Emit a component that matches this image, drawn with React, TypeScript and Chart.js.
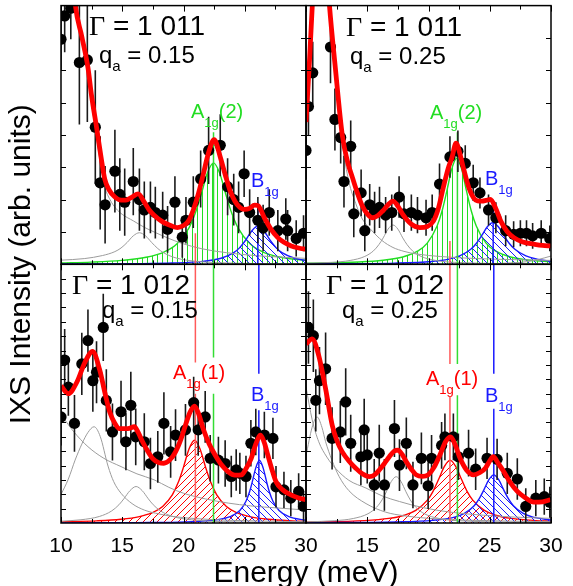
import React, { useEffect, useRef } from 'react';
import { Chart, registerables } from 'chart.js';

Chart.register(...registerables);

type Panel = 'TL' | 'TR' | 'BL' | 'BR';

// ---------- axis ticks ----------
const MAJOR_TICKS = [10, 15, 20, 25, 30];
const MINOR_TICKS = [12.5, 17.5, 22.5, 27.5];
const LEFT_TICK_LABELS = [10, 15, 20, 25, 30];
const RIGHT_TICK_LABELS = [15, 20, 25, 30];
const Y_DIV_TOP = 8;
const Y_DIV_BOTTOM = 18;

// ---------- panel texts ----------
const PANEL_GAMMA: Record<Panel, string> = { TL: '1 011', TR: '1 011', BL: '1 012', BR: '1 012' };
const PANEL_Q: Record<Panel, string> = { TL: '0.15', TR: '0.25', BL: '0.15', BR: '0.25' };

// ---------- measured points [energy meV, intensity, error] ----------
const TL_POINTS = [
  [10.0, 87, 12], [10.3, 96, 14], [10.8, 99, 12], [11.5, 78, 24], [12.15, 79, 24], [12.8, 53, 22],
  [13.2, 31.5, 18], [13.6, 23, 15], [14.4, 36, 16], [14.8, 27, 14], [15.2, 24, 13], [15.9, 32, 13],
  [16.4, 25, 12], [16.8, 21, 11], [17.3, 22, 10], [17.7, 20, 10], [18.3, 19, 9], [18.7, 13.5, 9],
  [19.3, 24, 10], [19.9, 10.5, 8], [20.2, 17, 9], [20.8, 24, 10], [21.4, 33, 11], [22.05, 44, 13],
  [23.0, 46, 12], [23.6, 30, 11], [24.1, 25, 10], [24.5, 22, 10], [24.95, 35, 9], [25.4, 20, 9],
  [26.07, 17, 9], [26.5, 14, 9], [27.0, 20, 9], [27.7, 13, 8], [28.35, 17.5, 8], [28.5, 13, 8],
  [29.2, 10, 7], [29.8, 12, 7],
];
const TR_POINTS = [
  [10.0, 44, 11], [10.2, 61, 11], [10.55, 74, 12], [12.0, 84, 14], [12.36, 56, 12], [12.83, 49, 10],
  [13.1, 32, 10], [13.65, 45.6, 10], [13.9, 19.5, 9], [14.5, 27.6, 9], [14.8, 13, 8], [15.2, 23, 8],
  [15.6, 20, 8], [16.0, 22, 8], [16.5, 19, 7], [17.0, 20, 7], [17.6, 26, 8], [18.0, 19.5, 7],
  [18.6, 20, 7], [19.1, 19, 7], [19.8, 18, 7], [20.3, 20, 7], [20.9, 31, 8], [21.75, 41.5, 8],
  [22.4, 43.7, 8], [23.0, 39, 7], [23.65, 31.5, 7], [24.2, 27.6, 6], [24.9, 21, 6], [25.5, 18, 6],
  [26.3, 13, 6], [26.95, 11.6, 5], [27.5, 12, 5], [28.0, 12, 5], [28.5, 11, 5], [29.2, 12, 5],
  [29.9, 10, 5],
];
const BL_POINTS = [
  [10.0, 41, 11], [10.3, 63, 12], [10.6, 52.5, 11], [11.1, 38.5, 11], [11.7, 61.5, 12], [12.2, 70.5, 12],
  [12.6, 55, 12], [12.9, 58.3, 12], [13.45, 75.6, 13], [13.7, 47.4, 12], [14.2, 35.2, 11], [14.9, 43, 12],
  [15.3, 31.4, 11], [15.7, 45.5, 13], [16.1, 33.3, 11], [16.8, 31.4, 11], [17.3, 23, 10], [17.9, 25.6, 10],
  [18.4, 38.5, 12], [18.95, 27.5, 10], [19.35, 34, 10], [20.16, 36, 10], [20.83, 46.5, 10], [21.2, 36, 10],
  [21.77, 41, 10], [22.18, 25, 9], [22.85, 24.3, 9], [23.4, 23, 9], [23.9, 18, 8], [24.3, 20.5, 8],
  [24.6, 19.2, 8], [25.1, 18, 8], [25.5, 30.8, 9], [25.9, 35.2, 9], [26.6, 34, 9], [27.3, 32.7, 8],
  [27.55, 14, 8], [28.2, 12.8, 7], [28.76, 9.6, 7], [29.4, 12.2, 7], [29.8, 6.5, 6],
];
const BR_POINTS = [
  [10.2, 75.6, 14], [10.6, 72.4, 14], [10.8, 47.4, 12], [11.1, 55, 13], [11.6, 59.6, 14], [12.13, 32.7, 12],
  [12.8, 35.2, 12], [13.24, 46.8, 13], [13.65, 30.8, 11], [14.48, 25.6, 11], [14.75, 36, 12], [15.0, 26.3, 11],
  [15.57, 14.7, 10], [15.98, 27, 11], [16.4, 14.7, 10], [17.22, 36.5, 11], [17.63, 22.4, 10], [18.19, 30.8, 10],
  [18.73, 14.7, 9], [19.42, 25, 10], [19.97, 14.4, 9], [20.25, 25, 9], [21.07, 30, 9], [21.34, 33.3, 9],
  [22.03, 33.3, 9], [22.44, 25.6, 9], [23.27, 27, 9], [23.85, 20.8, 8], [24.78, 25, 8], [25.6, 24.6, 8],
  [26.43, 19.2, 8], [27.25, 17, 8], [27.94, 6.4, 7], [28.76, 9.6, 7], [29.45, 10.2, 7], [29.9, 8, 6],
];

// ---------- fitted total (red) [energy, intensity] ----------
const TL_FIT = [
  [10, 185], [10.6, 135], [11.15, 101], [11.7, 88], [12.2, 76], [12.5, 65], [12.9, 53], [13.25, 42],
  [13.57, 33], [13.9, 29], [14.4, 26], [14.9, 24.8], [15.3, 24.8], [15.8, 26], [16.3, 27.2], [16.8, 24],
  [17.2, 21], [17.6, 19], [18.27, 16.5], [18.95, 15], [19.5, 14.2], [20.0, 15], [20.4, 16.7], [20.8, 21],
  [21.2, 27], [21.6, 34.5], [22.0, 42.4], [22.5, 48.2], [23.0, 41.5], [23.4, 34.7], [23.8, 28.5], [24.2, 24.4],
  [24.6, 22], [25.0, 21.2], [25.4, 21.6], [25.8, 22.9], [26.1, 22.6], [26.6, 18], [27.15, 13.5], [27.7, 10.3],
  [28.2, 8.5], [28.8, 7.1], [29.4, 6.3], [30, 5.8],
];
const TR_FIT = [
  [10.0, 55], [10.3, 80], [10.6, 108], [11.2, 150], [11.9, 101], [12.4, 75.7], [12.96, 50], [13.4, 39.5],
  [13.8, 33.4], [14.2, 27.5], [14.6, 22.5], [15.0, 19.5], [15.43, 18], [15.85, 18.8], [16.26, 20.6], [16.7, 23],
  [17.1, 24.4], [17.5, 22.5], [17.9, 19.3], [18.6, 15.5], [19.28, 14.2], [19.9, 14.6], [20.4, 16.7], [20.8, 21.5],
  [21.2, 29.5], [21.6, 37], [21.9, 41], [22.25, 46.8], [22.55, 43], [22.85, 37.2], [23.3, 29.5], [23.68, 25.7],
  [24.0, 24.5], [24.37, 24.4], [24.7, 24.7], [25.05, 25.1], [25.5, 21.5], [25.9, 16.7], [26.4, 12.8], [26.97, 10.3],
  [27.7, 8.6], [28.6, 7.8], [29.3, 7.3], [30, 7.1],
];
const BL_FIT = [
  [10.0, 53], [10.6, 50], [11.3, 54.5], [11.96, 62.2], [12.58, 66.3], [13.17, 59], [13.6, 50], [13.98, 42.9],
  [14.4, 38.5], [14.78, 36.5], [15.45, 36.5], [15.99, 37.2], [16.3, 35], [16.66, 31.4], [17.05, 28], [17.47, 25],
  [18.0, 23.3], [18.4, 23.1], [18.9, 24.5], [19.35, 27.5], [19.8, 32.5], [20.16, 37.8], [20.55, 43], [20.9, 45.2],
  [21.25, 42], [21.6, 36.5], [22.1, 30.5], [22.58, 26.3], [23.1, 22.5], [23.65, 19.8], [24.2, 18.5], [24.73, 18.6],
  [25.1, 21], [25.53, 25], [25.9, 30.5], [26.29, 34], [26.6, 31], [26.88, 26.3], [27.2, 21], [27.55, 16],
  [28.1, 12.8], [28.76, 10.9], [29.4, 9.7], [29.97, 9],
];
const BR_FIT = [
  [10.0, 69.2], [10.5, 71.2], [11.04, 64.7], [11.6, 51.9], [12.14, 37.8], [12.55, 31.5], [12.96, 27.5], [13.5, 24],
  [14.06, 21.2], [14.6, 19], [15.16, 17.9], [15.6, 18.6], [15.98, 20.5], [16.4, 23], [16.8, 25.6], [17.2, 27.8],
  [17.5, 28.2], [17.85, 26.5], [18.19, 23.7], [18.6, 20.8], [19.0, 18.6], [19.5, 18], [19.97, 18.6], [20.45, 21.5],
  [20.93, 26.3], [21.4, 31.5], [21.81, 33.3], [22.2, 30], [22.58, 25], [23.1, 20.5], [23.68, 18.6], [24.2, 19.5],
  [24.64, 21.2], [25.0, 24], [25.28, 25.6], [25.7, 23], [26.15, 19.8], [26.7, 15.5], [27.25, 12.2], [27.9, 9.8],
  [28.6, 8.1], [29.3, 8.2], [29.95, 9],
];

// ---------- gray components ----------
const TL_GRAY_TAIL = [
  [10, 185], [10.6, 135], [11.15, 100], [11.7, 86], [12.2, 73], [12.5, 62], [12.9, 49], [13.25, 38], [13.57, 30],
  [14.0, 25], [14.5, 21.5], [15.0, 19.3], [15.9, 16.8], [16.8, 14.3], [17.6, 12.5], [18.8, 10], [19.8, 8.2],
  [21.5, 6], [23.5, 4.5], [26, 3.3], [30, 2.3],
];
const TL_GRAY_MODE = [
  [10, 1.6], [11.9, 2.2], [13.4, 3.4], [14.4, 4.9], [14.9, 6.3], [15.4, 8.45], [15.9, 11.0], [16.4, 12.2],
  [16.9, 11.0], [17.4, 8.45], [17.9, 6.1], [18.4, 4.39], [19.4, 2.44], [20.9, 1.22], [24.4, 0.41], [30, 0.15],
];
const TR_GRAY_TAIL = [
  [10.0, 52], [10.3, 77], [10.6, 105], [11.2, 148], [11.9, 99], [12.4, 73], [12.96, 47], [13.5, 32], [14.06, 23.5],
  [14.6, 17.5], [15.4, 12.9], [16.2, 9.2], [17.1, 6.5], [18, 5], [19.0, 4], [21, 3], [24, 2.2], [27, 1.8], [30, 1.5],
];
const TR_GRAY_MODE = [
  [10, 0.39], [12.1, 0.76], [13.6, 1.48], [14.8, 3.04], [15.5, 5.17], [15.95, 7.6], [16.3, 10.2], [16.7, 13.6],
  [17.1, 15.2], [17.5, 13.6], [17.9, 10.2], [18.25, 7.6], [18.7, 5.17], [19.4, 3.04], [20.6, 1.48], [22.1, 0.76],
  [30, 0.12],
];
const TR_GRAY_HIGH = [[25.5, 0.3], [27, 0.6], [28, 1.0], [29, 1.9], [30, 3.2]];
const BL_GRAY_TAIL = [
  [10, 42], [11, 35.5], [12.2, 29.5], [13.5, 25], [14.9, 21.8], [16.2, 19], [17.6, 16.7], [18.8, 13.8],
  [20.0, 11.5], [21.8, 9.3], [23.65, 7.7], [25.5, 6.6], [27.7, 5.8], [30, 5],
];
const BL_GRAY_MODE1 = [
  [10, 11], [10.6, 17], [11.15, 24.3], [11.7, 30.5], [12.2, 35], [12.7, 37.2], [13.2, 33.5], [13.84, 22],
  [14.3, 16], [14.9, 11.5], [15.8, 7.5], [16.8, 5], [18, 3.5], [19, 2.6], [21, 1.7], [24, 1.0], [30, 0.5],
];
const BL_GRAY_MODE2 = [
  [10, 0.7], [11.63, 1.25], [13.13, 2.52], [14.13, 4.64], [14.73, 7.05], [15.13, 9.34], [15.63, 12.5], [16.13, 14.1],
  [16.63, 12.5], [17.13, 9.34], [17.53, 7.05], [18.13, 4.64], [19.13, 2.52], [20.63, 1.25], [24.13, 0.42], [30, 0.14],
];
const BR_GRAY_TAIL = [
  [10, 52.5], [10.5, 40], [11.04, 31.4], [11.7, 25.5], [12.4, 21.2], [13.5, 16.5], [14.9, 13.5], [16.2, 10.5],
  [17.63, 8.3], [19.5, 6], [21.75, 4.2], [24.5, 3], [27, 2.3], [30, 1.8],
];
const BR_GRAY_MODE1 = [
  [10, 26], [10.5, 37], [10.9, 41], [11.3, 37], [11.6, 31.4], [12.1, 24.5], [12.7, 18], [13.5, 12.5],
  [14.9, 7.5], [16.5, 4.2], [18, 2.8], [20, 1.8], [23, 1.1], [30, 0.5],
];
const BR_GRAY_MODE2 = [
  [10, 0.43], [12.36, 0.9], [13.86, 1.74], [15.06, 3.58], [15.76, 6.09], [16.21, 8.95], [16.56, 12.06], [16.96, 16.0],
  [17.36, 17.9], [17.76, 16.0], [18.16, 12.06], [18.51, 8.95], [18.96, 6.09], [19.66, 3.58], [20.86, 1.74],
  [22.36, 0.9], [30, 0.15],
];

// ---------- phonon components (hatched) ----------
const TL_A1G2 = [
  [10, 0.56], [12.45, 0.86], [14.95, 1.51], [16.95, 2.71], [18.45, 4.83], [19.45, 7.84], [20.45, 14.1], [20.95, 19.6],
  [21.45, 27.1], [21.95, 35.3], [22.45, 39.2], [22.95, 35.3], [23.45, 27.1], [23.95, 19.6], [24.45, 14.1],
  [25.45, 7.84], [26.45, 4.83], [27.95, 2.71], [30, 1.49],
];
const TL_B1G = [
  [10, 0.1], [16.07, 0.25], [19.07, 0.49], [21.57, 1.14], [23.07, 2.34], [24.07, 4.39], [24.57, 6.35], [25.07, 9.3],
  [25.57, 12.9], [26.07, 14.8], [26.57, 12.9], [27.07, 9.3], [27.57, 6.35], [28.07, 4.39], [29.07, 2.34], [30, 1.46],
];
const TR_A1G2 = [
  [10, 0.39], [14.3, 0.9], [16.3, 1.58], [17.9, 2.84], [19.1, 5.06], [19.9, 8.2], [20.7, 14.8], [21.1, 20.5],
  [21.5, 28.4], [21.9, 36.9], [22.3, 41], [22.7, 36.9], [23.1, 28.4], [23.5, 20.5], [23.9, 14.8], [24.7, 8.2],
  [25.5, 5.06], [26.7, 2.84], [28.3, 1.58], [30, 0.97],
];
const TR_B1G = [
  [10, 0.13], [17.25, 0.45], [20.25, 1.1], [21.65, 1.99], [22.55, 3.22], [23.45, 5.8], [23.9, 8.05], [24.35, 11.15],
  [24.8, 14.5], [25.25, 16.1], [25.7, 14.5], [26.15, 11.15], [26.6, 8.05], [27.05, 5.8], [27.95, 3.22], [28.85, 1.99],
  [30, 1.2],
];
const BL_A1G1 = [
  [10, 0.45], [12.9, 0.82], [14.9, 1.43], [16.4, 2.47], [17.4, 3.88], [18.3, 6.4], [19.1, 11], [19.6, 16], [20.0, 21.6],
  [20.45, 28.6], [20.9, 32], [21.35, 28.6], [21.8, 21.6], [22.2, 16], [22.7, 11], [23.5, 6.4], [24.4, 3.88],
  [25.4, 2.47], [26.9, 1.43], [28.9, 0.82], [30, 0.64],
];
const BL_B1G = [
  [10, 0.06], [16.2, 0.15], [20.2, 0.42], [22.7, 1.21], [23.8, 2.43], [24.6, 4.86], [25.1, 8.4], [25.4, 12.15],
  [25.6, 15.6], [25.9, 21.3], [26.2, 24.3], [26.5, 21.3], [26.8, 15.6], [27.0, 12.15], [27.3, 8.4], [27.8, 4.86],
  [28.6, 2.43], [30, 1.03],
];
const BR_A1G1 = [
  [10, 0.34], [14.76, 0.93], [16.76, 1.77], [18.03, 3.0], [18.96, 4.86], [19.89, 8.74], [20.36, 12.15], [20.83, 16.9],
  [21.29, 21.8], [21.76, 24.3], [22.23, 21.8], [22.69, 16.9], [23.16, 12.15], [23.63, 8.74], [24.56, 4.86],
  [25.49, 3.0], [26.76, 1.77], [28.76, 0.93], [30, 0.68],
];
const BR_B1G = [
  [10, 0.11], [17.33, 0.41], [20.33, 1.01], [22.13, 2.29], [22.93, 3.72], [23.73, 6.7], [24.13, 9.3], [24.53, 12.9],
  [24.93, 16.74], [25.33, 18.6], [25.73, 16.74], [26.13, 12.9], [26.53, 9.3], [26.93, 6.7], [27.73, 3.72],
  [28.53, 2.29], [30, 1.15],
];

// ---------- mode position markers [panel, energy, from, to] ----------
const A1G1_MARKS: [Panel, number, number, number][] = [
  ['TL', 20.97, 0, 12], ['BL', 20.97, 62, 100], ['BL', 20.97, 0, 50],
  ['TR', 21.75, 0, 9], ['BR', 21.75, 61.5, 100], ['BR', 21.75, 0, 48.7],
];
const A1G2_MARKS: [Panel, number, number, number][] = [
  ['TL', 22.45, 0, 51], ['BL', 22.45, 64, 100], ['BL', 22.45, 0, 50],
  ['TR', 22.36, 0, 51], ['BR', 22.36, 61.5, 100], ['BR', 22.36, 0, 49.4],
];
const B1G_MARKS: [Panel, number, number, number][] = [
  ['TL', 26.07, 0, 24], ['BL', 26.15, 57.7, 100], ['BL', 26.15, 0, 43.6],
  ['TR', 25.28, 0, 25], ['BR', 25.33, 57.7, 100], ['BR', 25.33, 0, 44.2],
];

// ---------- styling / layout ----------
const SANS = "'Liberation Sans', Arial, Helvetica, sans-serif";
const SERIF = "'Liberation Serif', 'Times New Roman', serif";
const RED = '#ff0000';
const GREEN = '#22dd22';
const BLUE = '#1a1aff';
const GRAY = '#9c9c9c';
const PANELS: Panel[] = ['TL', 'TR', 'BL', 'BR'];

const GAMMA_POS: Record<Panel, [number, number]> = { TL: [89, 35], TR: [346, 36], BL: [72, 294], BR: [326, 294] };
const Q_POS: Record<Panel, [number, number]> = { TL: [99, 63], TR: [350, 64], BL: [102, 318], BR: [342, 318] };
const A_POS: Record<Panel, [number, number]> = { TL: [191, 118], TR: [430, 119], BL: [173, 379], BR: [426, 385] };
const B_POS: Record<Panel, [number, number]> = { TL: [251, 187], TR: [485, 185], BL: [251, 401], BR: [485, 402] };

const col = (p: Panel) => (p[1] === 'L' ? 0 : 1);
const isTop = (p: Panel) => p[0] === 'T';
const X = (p: Panel, e: number) => e - 10 + col(p) * 20;
const Y = (p: Panel, v: number) => v + (isTop(p) ? 100 : 0);
const curve = (p: Panel, arr: number[][]) => arr.map(([e, v]) => ({ x: X(p, e), y: Y(p, v) }));

function panelRect(chart: any, p: Panel) {
  const xs = chart.scales.x;
  const ys = chart.scales.y;
  const c = col(p) * 20;
  return {
    l: xs.getPixelForValue(c),
    r: xs.getPixelForValue(c + 20),
    t: ys.getPixelForValue(isTop(p) ? 200 : 100),
    b: ys.getPixelForValue(isTop(p) ? 100 : 0),
  };
}

function drawRuns(ctx: CanvasRenderingContext2D, x: number, y: number, runs: [string, string, number][], color: string) {
  ctx.fillStyle = color;
  let cx = x;
  for (const [t, f, dy] of runs) {
    ctx.font = f;
    ctx.fillText(t, cx, y + dy);
    cx += ctx.measureText(t).width;
  }
}

const panelClip = {
  id: 'panelClip',
  beforeDatasetDraw(chart: any, args: any) {
    const ds = chart.data.datasets[args.index];
    const r = panelRect(chart, ds.panel);
    const ctx = chart.ctx;
    ctx.save();
    ctx.beginPath();
    ctx.rect(r.l, r.t, r.r - r.l, r.b - r.t);
    ctx.clip();
  },
  afterDatasetDraw(chart: any) {
    chart.ctx.restore();
  },
};

const frame = {
  id: 'frame',
  afterDraw(chart: any) {
    const ctx: CanvasRenderingContext2D = chart.ctx;
    const xs = chart.scales.x;
    const ys = chart.scales.y;
    ctx.save();
    ctx.textAlign = 'left';
    ctx.textBaseline = 'alphabetic';
    for (const p of PANELS) {
      const r = panelRect(chart, p);
      ctx.strokeStyle = '#000';
      ctx.lineWidth = 1;
      ctx.beginPath();
      for (const e of [...MAJOR_TICKS, ...MINOR_TICKS]) {
        const xp = Math.round(xs.getPixelForValue(X(p, e))) + 0.5;
        const len = MAJOR_TICKS.includes(e) ? 6 : 4;
        ctx.moveTo(xp, r.b); ctx.lineTo(xp, r.b - len);
        ctx.moveTo(xp, r.t); ctx.lineTo(xp, r.t + len);
      }
      const n = isTop(p) ? Y_DIV_TOP : Y_DIV_BOTTOM;
      for (let k = 1; k < n; k++) {
        const yp = Math.round(ys.getPixelForValue(Y(p, (k * 100) / n))) + 0.5;
        ctx.moveTo(r.l, yp); ctx.lineTo(r.l + 5, yp);
        ctx.moveTo(r.r, yp); ctx.lineTo(r.r - 5, yp);
      }
      ctx.stroke();
      ctx.lineWidth = 1.5;
      ctx.strokeRect(r.l, r.t, r.r - r.l, r.b - r.t);

      const [gx, gy] = GAMMA_POS[p];
      drawRuns(ctx, gx, gy, [['\u0393', `28px ${SERIF}`, 0], [' = ' + PANEL_GAMMA[p], `28px ${SANS}`, 0]], '#000');
      const [qx, qy] = Q_POS[p];
      drawRuns(ctx, qx, qy, [['q', `24px ${SANS}`, 0], ['a', `15px ${SANS}`, 8], [' = ' + PANEL_Q[p], `24px ${SANS}`, 0]], '#000');
      const [ax, ay] = A_POS[p];
      const top = isTop(p);
      drawRuns(ctx, ax, ay, [['A', `20px ${SANS}`, 0], ['1g', `13px ${SANS}`, 9], [top ? '(2)' : '(1)', `20px ${SANS}`, 0]], top ? GREEN : RED);
      const [bx, by] = B_POS[p];
      drawRuns(ctx, bx, by, [['B', `20px ${SANS}`, 0], ['1g', `13px ${SANS}`, 9]], BLUE);
    }
    ctx.fillStyle = '#000';
    ctx.font = `21px ${SANS}`;
    ctx.textAlign = 'center';
    const yb = ys.getPixelForValue(0) + 29;
    for (const e of LEFT_TICK_LABELS) ctx.fillText(String(e), xs.getPixelForValue(X('BL', e)), yb);
    for (const e of RIGHT_TICK_LABELS) ctx.fillText(String(e), xs.getPixelForValue(X('BR', e)), yb);
    ctx.font = `30px ${SANS}`;
    ctx.fillText('Energy (meV)', (xs.left + xs.right) / 2, ys.getPixelForValue(0) + 59);
    ctx.translate(22, (ys.top + ys.bottom) / 2);
    ctx.rotate(-Math.PI / 2);
    ctx.textBaseline = 'middle';
    ctx.fillText('IXS Intensity (arb. units)', 0, 0);
    ctx.restore();
  },
};

function makeHatch(target: CanvasRenderingContext2D, color: string, kind: string, s: number) {
  const c = document.createElement('canvas');
  c.width = s;
  c.height = s;
  const g = c.getContext('2d')!;
  g.strokeStyle = color;
  g.lineWidth = 1;
  g.beginPath();
  if (kind === 'v') {
    g.moveTo(Math.floor(s / 2) + 0.5, 0);
    g.lineTo(Math.floor(s / 2) + 0.5, s);
  } else if (kind === 'back') {
    for (const k of [-s, 0, s]) { g.moveTo(0, k); g.lineTo(s, s + k); }
  } else {
    for (const k of [0, s, 2 * s]) { g.moveTo(0, k); g.lineTo(s, k - s); }
  }
  g.stroke();
  return target.createPattern(c, 'repeat');
}

export default function App() {
  const ref = useRef<HTMLCanvasElement | null>(null);
  useEffect(() => {
    const canvas = ref.current!;
    const ctx = canvas.getContext('2d')!;
    const greenHatch = makeHatch(ctx, GREEN, 'v', 5);
    const blueHatch = makeHatch(ctx, BLUE, 'back', 7);
    const redHatch = makeHatch(ctx, RED, 'fwd', 7);

    const POINTS: Record<Panel, number[][]> = { TL: TL_POINTS, TR: TR_POINTS, BL: BL_POINTS, BR: BR_POINTS };
    const FITS: Record<Panel, number[][]> = { TL: TL_FIT, TR: TR_FIT, BL: BL_FIT, BR: BR_FIT };
    const GRAYS: Record<Panel, number[][][]> = {
      TL: [TL_GRAY_TAIL, TL_GRAY_MODE],
      TR: [TR_GRAY_TAIL, TR_GRAY_MODE, TR_GRAY_HIGH],
      BL: [BL_GRAY_TAIL, BL_GRAY_MODE1, BL_GRAY_MODE2],
      BR: [BR_GRAY_TAIL, BR_GRAY_MODE1, BR_GRAY_MODE2],
    };
    const BLUES: Record<Panel, number[][]> = { TL: TL_B1G, TR: TR_B1G, BL: BL_B1G, BR: BR_B1G };
    const OTHER: Record<Panel, number[][]> = { TL: TL_A1G2, TR: TR_A1G2, BL: BL_A1G1, BR: BR_A1G1 };

    const datasets: any[] = [];
    const line = (p: Panel, data: any[], extra: any) => ({
      panel: p,
      data,
      pointRadius: 0,
      fill: false,
      cubicInterpolationMode: 'monotone',
      ...extra,
    });

    for (const p of PANELS) {
      datasets.push(line(p, curve(p, FITS[p]), { order: 0, borderColor: RED, borderWidth: 4.8 }));
      datasets.push({
        panel: p,
        order: 1,
        data: curve(p, POINTS[p]),
        showLine: false,
        pointRadius: 5.6,
        pointBackgroundColor: '#000',
        pointBorderColor: '#000',
        pointBorderWidth: 0,
      });
      const err: any[] = [];
      for (const [e, v, s] of POINTS[p]) {
        err.push({ x: X(p, e), y: Y(p, v - s) }, { x: X(p, e), y: Y(p, v + s) }, { x: X(p, e), y: null });
      }
      datasets.push(line(p, err, { order: 2, borderColor: '#1a1a1a', borderWidth: 1.6, spanGaps: false, cubicInterpolationMode: 'default', tension: 0 }));
      const marks: [[Panel, number, number, number][], string][] = [[A1G1_MARKS, '#ff5a5a'], [A1G2_MARKS, '#33dd33'], [B1G_MARKS, BLUE]];
      for (const [list, color] of marks) {
        const d: any[] = [];
        for (const [mp, e, a, b] of list) {
          if (mp !== p) continue;
          d.push({ x: X(p, e), y: Y(p, a) }, { x: X(p, e), y: Y(p, b) }, { x: X(p, e), y: null });
        }
        if (d.length) datasets.push(line(p, d, { order: 3, borderColor: color, borderWidth: 1.5, spanGaps: false, cubicInterpolationMode: 'default', tension: 0 }));
      }
      for (const g of GRAYS[p]) datasets.push(line(p, curve(p, g), { order: 4, borderColor: GRAY, borderWidth: 1 }));
      const base = isTop(p) ? 100 : 0;
      datasets.push(line(p, curve(p, BLUES[p]), { order: 5, borderColor: BLUE, borderWidth: 1.4, backgroundColor: blueHatch, fill: { value: base } }));
      datasets.push(line(p, curve(p, OTHER[p]), {
        order: 6,
        borderColor: isTop(p) ? GREEN : RED,
        borderWidth: 1.4,
        backgroundColor: isTop(p) ? greenHatch : redHatch,
        fill: { value: base },
      }));
    }

    const chart = new Chart(canvas, {
      type: 'line',
      data: { datasets },
      options: {
        animation: false,
        responsive: false,
        devicePixelRatio: 1,
        events: [],
        layout: { padding: { left: 61, right: 22, top: 3, bottom: 63 } },
        plugins: { legend: { display: false }, tooltip: { enabled: false }, title: { display: false } },
        scales: {
          x: { type: 'linear', min: 0, max: 40, display: false },
          y: { type: 'linear', min: 0, max: 200, display: false },
        },
      } as any,
      plugins: [panelClip, frame],
    });
    return () => chart.destroy();
  }, []);

  return (
    <div style={{ position: 'absolute', left: 0, top: 0, width: 573, height: 586, background: '#fff' }}>
      <canvas ref={ref} width={573} height={586} style={{ width: 573, height: 586, display: 'block' }} />
    </div>
  );
}
